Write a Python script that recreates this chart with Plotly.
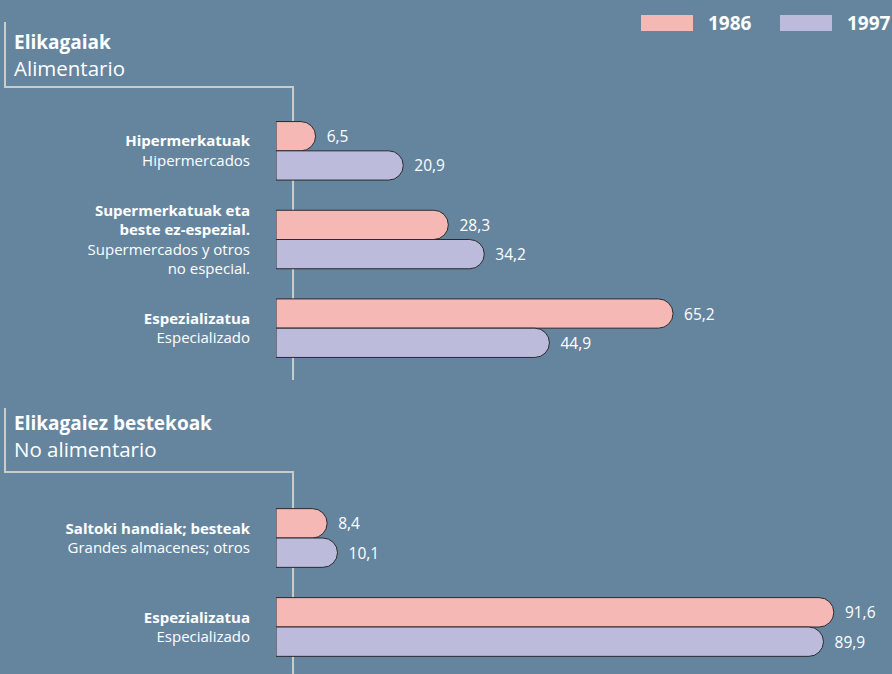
import plotly.graph_objects as go

W, H = 892, 674

# ---- data ----
years = ["1986", "1997"]
colors = ["#f6b8b4", "#bcbbdc"]

p1_title = ["Elikagaiak", "Alimentario"]
p1_cats_eu = ["Hipermerkatuak", "Supermerkatuak eta<br>beste ez-espezial.", "Espezializatua"]
p1_cats_es = ["Hipermercados", "Supermercados y otros<br>no especial.", "Especializado"]
p1_1986 = [6.5, 28.3, 65.2]
p1_1997 = [20.9, 34.2, 44.9]

p2_title = ["Elikagaiez bestekoak", "No alimentario"]
p2_cats_eu = ["Saltoki handiak; besteak", "Espezializatua"]
p2_cats_es = ["Grandes almacenes; otros", "Especializado"]
p2_1986 = [8.4, 91.6]
p2_1997 = [10.1, 89.9]

BG = "#65859f"
LINE = "#c9cdca"
FONT = "Open Sans"


def px_x(p):
    return p / W


def px_y(p):
    return 1 - p / H


def cat_labels(eu, es):
    return [f"<b>{a}</b><br>{b}" for a, b in zip(eu, es)]


fig = go.Figure()

panels = [
    ("x", "y", cat_labels(p1_cats_eu, p1_cats_es), [p1_1986, p1_1997]),
    ("x2", "y2", cat_labels(p2_cats_eu, p2_cats_es), [p2_1986, p2_1997]),
]
for xa, ya, cats, series in panels:
    for name, col, vals in zip(years, colors, series):
        fig.add_trace(go.Bar(
            y=cats, x=vals, name=name, orientation="h",
            xaxis=xa, yaxis=ya,
            marker=dict(color=col, line=dict(color="#2a2a2a", width=1)),
            texttemplate="\u00a0\u00a0%{x:.1f}", textposition="outside",
            textfont=dict(color="white", size=15.5, family=FONT),
            cliponaxis=False, showlegend=False, hoverinfo="skip",
        ))

xdom = [px_x(276), px_x(885)]
ax_common = dict(range=[0, 100], visible=False, fixedrange=True)
ycommon = dict(autorange="reversed", showgrid=False, zeroline=False, showline=False,
               ticks="", ticklabelstandoff=25,
               tickfont=dict(size=15, color="white", family=FONT), fixedrange=True)
fig.update_layout(
    width=W, height=H,
    margin=dict(l=0, r=0, t=0, b=0),
    paper_bgcolor=BG, plot_bgcolor="rgba(0,0,0,0)",
    barmode="group", bargap=0.34, bargroupgap=0,
    barcornerradius="50%",
    separators=",.",
    font=dict(family=FONT, color="white", size=15),
    xaxis=dict(domain=xdom, anchor="y", **ax_common),
    xaxis2=dict(domain=xdom, anchor="y2", **ax_common),
    yaxis=dict(domain=[px_y(372.5), px_y(106.5)], anchor="x", **ycommon),
    yaxis2=dict(domain=[px_y(671.5), px_y(493.5)], anchor="x2", **ycommon),
)

# decorative frame lines
def path(points):
    s = ""
    for i, (x, y) in enumerate(points):
        s += ("M" if i == 0 else "L") + f"{px_x(x):.4f},{px_y(y):.4f} "
    return s

fig.add_shape(type="path", xref="paper", yref="paper", layer="below",
              path=path([(5, 22), (5, 87), (293, 87), (293, 380)]),
              line=dict(color=LINE, width=2))
fig.add_shape(type="path", xref="paper", yref="paper", layer="below",
              path=path([(5, 408), (5, 472), (293, 472), (293, 674)]),
              line=dict(color=LINE, width=2))

# panel titles
for title, y1, y2 in [(p1_title, 42, 68), (p2_title, 423, 449)]:
    fig.add_annotation(xref="paper", yref="paper", x=px_x(12), y=px_y(y1),
                       xanchor="left", yanchor="middle", showarrow=False,
                       text=f"<b>{title[0]}</b>",
                       font=dict(size=19, color="white", family=FONT))
    fig.add_annotation(xref="paper", yref="paper", x=px_x(12), y=px_y(y2),
                       xanchor="left", yanchor="middle", showarrow=False,
                       text=title[1],
                       font=dict(size=20.5, color="white", family=FONT))

# legend
for name, col, x0 in zip(years, colors, [641, 780]):
    fig.add_shape(type="rect", xref="paper", yref="paper",
                  x0=px_x(x0), x1=px_x(x0 + 52), y0=px_y(31), y1=px_y(15),
                  fillcolor=col, line=dict(width=0))
    fig.add_annotation(xref="paper", yref="paper", x=px_x(x0 + 65), y=px_y(23),
                       xanchor="left", yanchor="middle", showarrow=False,
                       text=f"<b>{name}</b>", font=dict(size=19, color="white", family=FONT))

fig.write_html("out.html", config={"displayModeBar": False},
               post_script="document.body.style.margin='0';document.body.style.padding='0';")
